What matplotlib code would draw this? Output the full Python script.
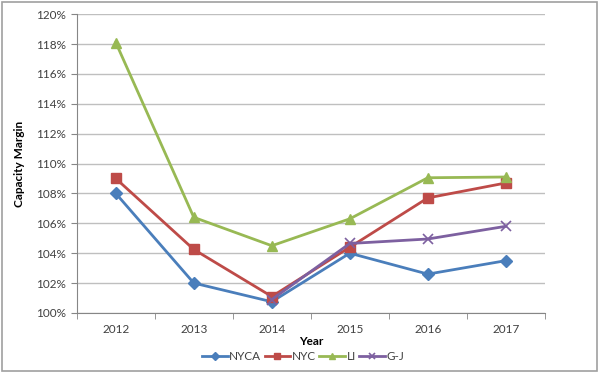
import numpy as np
import matplotlib.pyplot as plt
from matplotlib.patches import Rectangle

years = ['2012', '2013', '2014', '2015', '2016', '2017']
nyca = [108.0, 102.0, 100.75, 104.0, 102.6, 103.5]
nyc = [109.0, 104.25, 101.1, 104.4, 107.7, 108.7]
li = [118.1, 106.4, 104.5, 106.3, 109.05, 109.1]
gj = [np.nan, np.nan, 100.9, 104.65, 104.95, 105.8]

plt.rcParams['font.family'] = ['Lato', 'DejaVu Sans']

fig = plt.figure(figsize=(6, 3.73), dpi=100)
ax = fig.add_axes([0.128, 0.161, 0.78, 0.801])

x = np.arange(len(years))
ax.plot(x, nyca, color='#4A7EBB', lw=2, marker='D', ms=6, label='NYCA')
ax.plot(x, nyc, color='#BE4B48', lw=2, marker='s', ms=7, label='NYC')
ax.plot(x, li, color='#98B954', lw=2, marker='^', ms=7, label='LI')
ax.plot(x, gj, color='#7D60A0', lw=2, marker='x', ms=7, mew=1.2, label='G-J')

ax.set_xlim(-0.5, len(years) - 0.5)
ax.set_ylim(100, 120)
ax.set_yticks(np.arange(100, 121, 2))
ax.set_yticklabels(['%d%%' % v for v in range(100, 121, 2)])
ax.set_xticks(x)
ax.set_xticklabels(years)
ax.set_xticks(np.arange(-0.5, len(years), 1), minor=True)
ax.tick_params(axis='x', which='major', length=0, pad=8, labelsize=8.5, colors='#404040')
ax.tick_params(axis='x', which='minor', length=4, color='#868686')
ax.tick_params(axis='y', length=4, color='#868686', labelsize=8.5, labelcolor='#404040')

ax.grid(axis='y', color='#BFBFBF', lw=1)
ax.set_axisbelow(True)
for s in ['top', 'right']:
    ax.spines[s].set_visible(False)
for s in ['left', 'bottom']:
    ax.spines[s].set_color('#868686')

ax.set_ylabel('Capacity Margin', fontsize=8.5, fontweight='bold', labelpad=8)
ax.set_xlabel('Year', fontsize=8.5, fontweight='bold', labelpad=1)

fig.legend(loc='center', bbox_to_anchor=(0.505, 0.045), ncol=4, frameon=False,
           fontsize=8.5, handlelength=2.2, columnspacing=0.3, handletextpad=0.1,
           markerscale=0.65, labelcolor='#404040')

fig.patches.append(Rectangle((0.003, 0.005), 0.992, 0.99, transform=fig.transFigure,
                             fill=False, edgecolor='#A0A0A0', lw=1.2))

fig.savefig('out.png', dpi=100)
